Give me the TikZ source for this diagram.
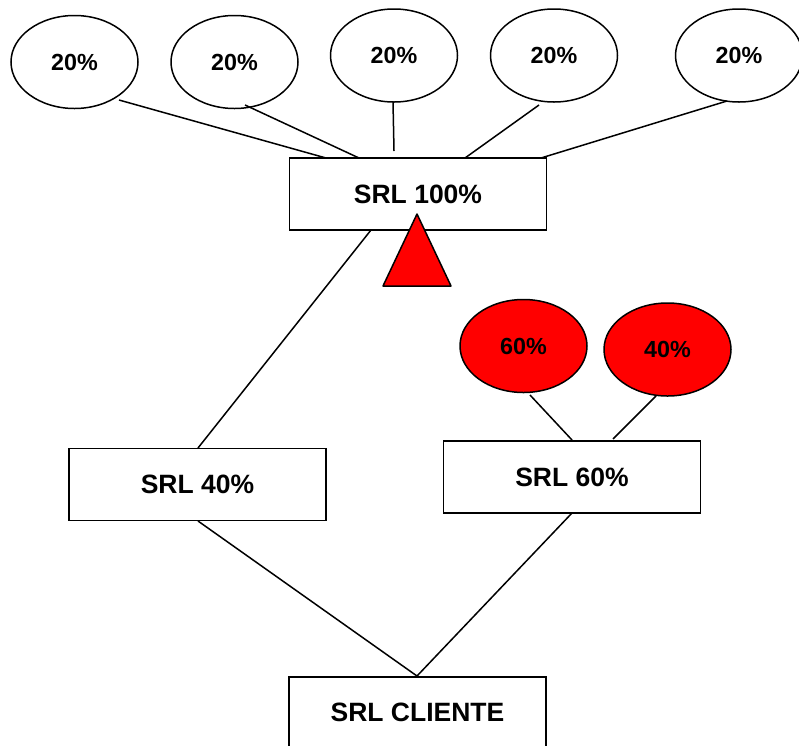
\documentclass[tikz,border=0pt]{standalone}
\usepackage{fontspec}
\setmainfont{Liberation Sans}
\usetikzlibrary{shapes.geometric}
\tikzset{
  x=1pt,y=-1pt,
  own/.style={draw=black,line width=1.5pt,ellipse,minimum width=127pt,minimum height=93pt,inner sep=0pt,text=black,font=\bfseries\fontsize{23.3}{26}\selectfont},
  ownred/.style={own,fill=red},
  srlbox/.style={draw=black,line width=1.5pt,fill=white,minimum width=257pt,minimum height=72pt,inner sep=0pt,text=black,font=\bfseries\fontsize{26.5}{30}\selectfont},
  link/.style={draw=black,line width=1.5pt}
}
\begin{document}
\begin{tikzpicture}
\useasboundingbox (0,0) rectangle (799,745);
% connector ends
\coordinate (e1) at (119,100); \coordinate (b1) at (326,158);
\coordinate (e2) at (245,105); \coordinate (b2) at (359,158);
\coordinate (e3) at (393,102); \coordinate (b3) at (394,151);
\coordinate (e4) at (539,105); \coordinate (b4) at (465,158);
\coordinate (e5) at (727,101); \coordinate (b5) at (541,158);
\coordinate (t1) at (371,230); \coordinate (t2) at (198,448);
\coordinate (r1) at (530,395); \coordinate (r2) at (572,440);
\coordinate (r3) at (656,396); \coordinate (r4) at (613,439);
\coordinate (l1) at (198,521); \coordinate (c1) at (417,676);
\coordinate (l2) at (572,513);
% connectors
\draw[link] (e1) -- (b1);
\draw[link] (e2) -- (b2);
\draw[link] (e3) -- (b3);
\draw[link] (e4) -- (b4);
\draw[link] (e5) -- (b5);
\draw[link] (t1) -- (t2);
\draw[link] (r1) -- (r2);
\draw[link] (r3) -- (r4);
\draw[link] (l1) -- (c1);
\draw[link] (l2) -- (c1);
% owners
\node[own] (o1) at (74.5,62) {20\%};
\node[own] (o2) at (234.5,62) {20\%};
\node[own] (o3) at (394,55.5) {20\%};
\node[own] (o4) at (554,55.5) {20\%};
\node[own] (o5) at (739,55.5) {20\%};
\node[ownred] (o6) at (523.5,346) {60\%};
\node[ownred] (o7) at (667.5,349.5) {40\%};
% boxes
\node[srlbox] (top) at (418,194) {SRL 100\%};
\node[srlbox] (left) at (197.5,484.5) {SRL 40\%};
\node[srlbox] (right) at (572,477) {SRL 60\%};
\node[srlbox,anchor=north] (client) at (417.5,676) {SRL CLIENTE};
% triangle
\draw[draw=black,line width=1.5pt,fill=red,line join=round] (417,214) coordinate (tri) -- (451,286) -- (383,286) -- cycle;
\end{tikzpicture}
\end{document}
